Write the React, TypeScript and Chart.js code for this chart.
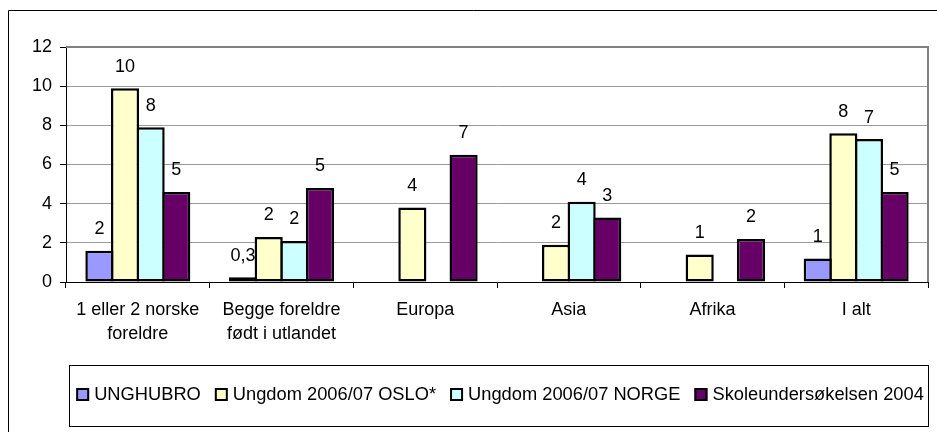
import React, { useEffect, useRef } from "react";
import { Chart, registerables } from "chart.js";

Chart.register(...registerables);

// ---- data ----
const categories: (string | string[])[] = [
  ["1 eller 2 norske", "foreldre"],
  ["Begge foreldre", "født i utlandet"],
  "Europa",
  "Asia",
  "Afrika",
  "I alt",
];
const seriesNames = [
  "UNGHUBRO",
  "Ungdom 2006/07 OSLO*",
  "Ungdom 2006/07 NORGE",
  "Skoleundersøkelsen 2004",
];
const unghubro = [1.6, 0.24, null, null, null, 1.2];
const osloUngdom = [9.9, 2.3, 3.8, 1.9, 1.4, 7.6];
const norgeUngdom = [7.9, 2.1, null, 4.1, null, 7.3];
const skole2004 = [4.6, 4.8, 6.5, 3.3, 2.2, 4.6];

const unghubroLabels = ["2", "0,3", "", "", "", "1"];
const osloLabels = ["10", "2", "4", "2", "1", "8"];
const norgeLabels = ["8", "2", "", "4", "", "7"];
const skoleLabels = ["5", "5", "7", "3", "2", "5"];

const yMin = 0;
const yMax = 12;
const yStep = 2;

const seriesColors = ["#9999FF", "#FFFFCC", "#CCFFFF", "#660066"];

// ---- styles ----
const FONT = "Liberation Sans, Arial, Helvetica, sans-serif";
const W = 937;
const H = 432;
const BAR_BORDER = 2.5;

const framePlugin = {
  id: "framePlugin",
  beforeDraw(chart: any) {
    const ctx = chart.ctx;
    ctx.save();
    ctx.fillStyle = "#ffffff";
    ctx.fillRect(0, 0, W, H);
    ctx.strokeStyle = "#000000";
    ctx.lineWidth = 1;
    ctx.beginPath();
    ctx.moveTo(8.5, H + 5);
    ctx.lineTo(8.5, 10.5);
    ctx.lineTo(W + 5, 10.5);
    ctx.stroke();
    ctx.restore();
  },
  afterDatasetsDraw(chart: any) {
    const { ctx, chartArea } = chart;
    ctx.save();
    ctx.strokeStyle = "#808080";
    ctx.lineWidth = 2;
    ctx.beginPath();
    ctx.moveTo(chartArea.left, chartArea.top);
    ctx.lineTo(chartArea.right, chartArea.top);
    ctx.lineTo(chartArea.right, chartArea.bottom);
    ctx.stroke();
    ctx.restore();
  },
};

const dataLabelPlugin = {
  id: "dataLabelPlugin",
  afterDatasetsDraw(chart: any) {
    const ctx = chart.ctx;
    ctx.save();
    ctx.font = `18px ${FONT}`;
    ctx.fillStyle = "#000000";
    ctx.textAlign = "center";
    ctx.textBaseline = "middle";
    chart.data.datasets.forEach((ds: any, di: number) => {
      const meta = chart.getDatasetMeta(di);
      meta.data.forEach((el: any, i: number) => {
        const v = ds.data[i];
        const lbl = ds.valueLabels[i];
        if (v === null || v === undefined || !lbl) return;
        ctx.fillText(lbl, el.x, el.y - 21.5);
      });
    });
    ctx.restore();
  },
};

const legendPlugin = {
  id: "boxLegend",
  afterDraw(chart: any) {
    const ctx = chart.ctx;
    const boxL = 69.5;
    const boxR = 928.5;
    const boxT = 365.5;
    const boxB = 426.5;
    ctx.save();
    ctx.strokeStyle = "#000000";
    ctx.lineWidth = 1;
    ctx.strokeRect(boxL, boxT, boxR - boxL, boxB - boxT);

    ctx.font = `18.3px ${FONT}`;
    ctx.textBaseline = "middle";
    ctx.textAlign = "left";
    const sw = 13;
    const gapBoxText = 5;
    const gapItem = 14;
    const items = chart.data.datasets.map((ds: any) => ({
      label: ds.label,
      color: ds.backgroundColor,
      w: ctx.measureText(ds.label).width,
    }));
    const total =
      items.reduce((a: number, it: any) => a + sw + gapBoxText + it.w, 0) +
      gapItem * (items.length - 1);
    let x = 500 - total / 2;
    const cy = 394.5;
    items.forEach((it: any) => {
      ctx.fillStyle = it.color;
      ctx.fillRect(x, cy - sw / 2, sw, sw);
      ctx.strokeStyle = "#000000";
      ctx.lineWidth = 2;
      ctx.strokeRect(x + 1, cy - sw / 2 + 1, sw - 2, sw - 2);
      ctx.fillStyle = "#000000";
      ctx.fillText(it.label, x + sw + gapBoxText, cy);
      x += sw + gapBoxText + it.w + gapItem;
    });
    ctx.restore();
  },
};

export default function App() {
  const ref = useRef<HTMLCanvasElement | null>(null);

  useEffect(() => {
    if (!ref.current) return;
    const seriesData = [unghubro, osloUngdom, norgeUngdom, skole2004];
    const seriesLabels = [unghubroLabels, osloLabels, norgeLabels, skoleLabels];
    const chart = new Chart(ref.current, {
      type: "bar",
      data: {
        labels: categories,
        datasets: seriesNames.map((name, i) => ({
          label: name,
          data: seriesData[i],
          valueLabels: seriesLabels[i],
          backgroundColor: seriesColors[i],
          borderColor: "#000000",
          borderWidth: BAR_BORDER,
          borderSkipped: false,
          categoryPercentage: 0.7134,
          barPercentage: 1.0976,
        })) as any,
      },
      options: {
        responsive: false,
        animation: false,
        devicePixelRatio: 1,
        layout: { padding: { left: 0, right: 9, top: 47, bottom: 0 } },
        plugins: {
          legend: { display: false },
          tooltip: { enabled: false },
          title: { display: false },
        },
        scales: {
          x: {
            offset: true,
            grid: {
              offset: true,
              drawOnChartArea: false,
              drawTicks: true,
              tickLength: 6,
              tickColor: "#000000",
              lineWidth: 1,
            },
            border: { display: true, color: "#000000", width: 1 },
            ticks: {
              color: "#000000",
              font: { family: FONT, size: 18, lineHeight: 24 / 18 },
              padding: 10,
              maxRotation: 0,
              minRotation: 0,
              autoSkip: false,
            },
            afterFit(scale: any) {
              scale.height = 150;
            },
          },
          y: {
            min: yMin,
            max: yMax,
            grid: {
              color: "#9a9a9a",
              lineWidth: 1,
              drawTicks: true,
              tickLength: 6,
              tickColor: "#000000",
            },
            border: { display: true, color: "#000000", width: 1 },
            ticks: {
              stepSize: yStep,
              color: "#000000",
              font: { family: FONT, size: 18 },
              padding: 8,
            },
            afterFit(scale: any) {
              scale.width = 66;
            },
          },
        },
      },
      plugins: [framePlugin, dataLabelPlugin, legendPlugin],
    });
    return () => chart.destroy();
  }, []);

  return (
    <div
      style={{
        position: "fixed",
        left: 0,
        top: 0,
        width: W,
        height: H,
        background: "#ffffff",
      }}
    >
      <canvas ref={ref} width={W} height={H} style={{ width: W, height: H, display: "block" }} />
    </div>
  );
}
